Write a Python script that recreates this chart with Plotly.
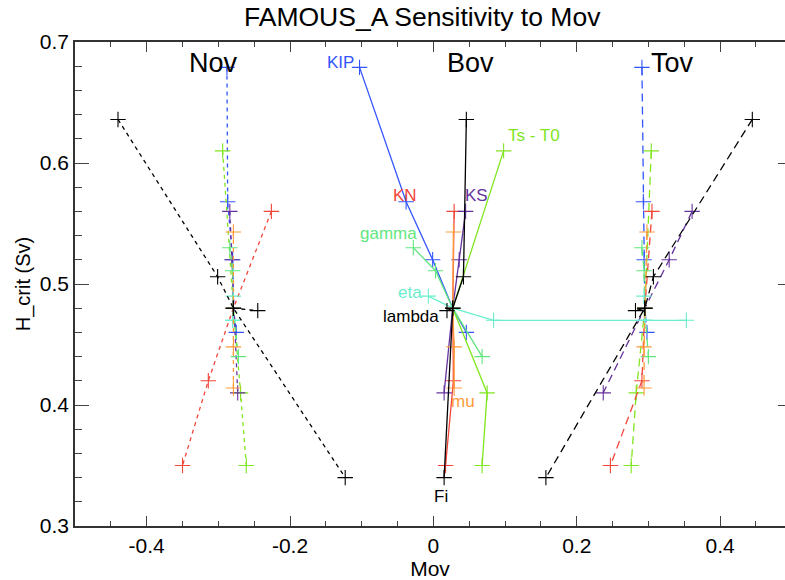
import numpy as np
import plotly.graph_objects as go

# ---- data (H_crit levels and Mov responses: Nov, Bov, Tov) ----
params = ["KIP", "Ts - T0", "KN", "KS", "gamma", "eta", "mu", "lambda", "Fi"]
colors = {"KIP": "#3355ff", "Ts - T0": "#80e61e", "KN": "#f2463a", "KS": "#66339e",
          "gamma": "#62e67e", "eta": "#6aeecc", "mu": "#ff9a3a", "lambda": "#000000", "Fi": "#000000"}

H_KIP = [0.679, 0.568, 0.520, 0.480, 0.460]
Nov_KIP = [-0.288, -0.287, -0.280, -0.279, -0.275]
Bov_KIP = [-0.103, -0.038, -0.001, 0.027, 0.046]
Tov_KIP = [0.291, 0.293, 0.294, 0.295, 0.298]

H_TS = [0.610, 0.480, 0.410, 0.350]
Nov_TS = [-0.294, -0.279, -0.269, -0.261]
Bov_TS = [0.098, 0.027, 0.075, 0.068]
Tov_TS = [0.304, 0.295, 0.283, 0.276]

H_KN = [0.560, 0.480, 0.420, 0.350]
Nov_KN = [-0.226, -0.279, -0.314, -0.350]
Bov_KN = [0.029, 0.027, 0.028, 0.017]
Tov_KN = [0.305, 0.295, 0.291, 0.247]

H_KS = [0.560, 0.520, 0.480, 0.410]
Nov_KS = [-0.284, -0.281, -0.279, -0.273]
Bov_KS = [0.045, 0.036, 0.027, 0.015]
Tov_KS = [0.361, 0.329, 0.295, 0.237]

H_GAM = [0.530, 0.511, 0.480, 0.440]
Nov_GAM = [-0.284, -0.280, -0.279, -0.272]
Bov_GAM = [-0.028, 0.003, 0.027, 0.068]
Tov_GAM = [0.291, 0.294, 0.295, 0.300]

H_ETA = [0.490, 0.480, 0.470, 0.470]
Nov_ETA = [-0.279, -0.279, -0.280, -0.280]
Bov_ETA = [-0.007, 0.027, 0.084, 0.353]
Tov_ETA = [0.294, 0.295, 0.295, 0.295]

H_MU = [0.543, 0.480, 0.448, 0.414]
Nov_MU = [-0.279, -0.279, -0.279, -0.279]
Bov_MU = [0.028, 0.027, 0.029, 0.029]
Tov_MU = [0.298, 0.295, 0.294, 0.294]

H_LAM = [0.480, 0.478]
Nov_LAM = [-0.279, -0.245]
Bov_LAM = [0.027, 0.019]
Tov_LAM = [0.295, 0.282]

H_FI = [0.636, 0.506, 0.480, 0.340]
Nov_FI = [-0.440, -0.301, -0.279, -0.123]
Bov_FI = [0.046, 0.042, 0.027, 0.015]
Tov_FI = [0.445, 0.307, 0.295, 0.157]

series = {
    "KIP": (H_KIP, Nov_KIP, Bov_KIP, Tov_KIP),
    "Ts - T0": (H_TS, Nov_TS, Bov_TS, Tov_TS),
    "KN": (H_KN, Nov_KN, Bov_KN, Tov_KN),
    "KS": (H_KS, Nov_KS, Bov_KS, Tov_KS),
    "gamma": (H_GAM, Nov_GAM, Bov_GAM, Tov_GAM),
    "eta": (H_ETA, Nov_ETA, Bov_ETA, Tov_ETA),
    "mu": (H_MU, Nov_MU, Bov_MU, Tov_MU),
    "lambda": (H_LAM, Nov_LAM, Bov_LAM, Tov_LAM),
    "Fi": (H_FI, Nov_FI, Bov_FI, Tov_FI),
}

x_ticks = [-0.4, -0.2, 0.0, 0.2, 0.4]
x_ticktext = ["-0.4", "-0.2", "0", "0.2", "0.4"]
y_ticks = [0.3, 0.4, 0.5, 0.6, 0.7]
y_ticktext = ["0.3", "0.4", "0.5", "0.6", "0.7"]

FONT = "Liberation Sans, Arial, sans-serif"

fig = go.Figure()
for name in params:
    H, nov, bov, tov = series[name]
    c = colors[name]
    for xs, dash in ((nov, "4px,4px"), (tov, "8px,5px"), (bov, "solid")):
        fig.add_trace(go.Scatter(
            x=xs, y=H, mode="lines+markers",
            line=dict(color=c, width=1.3, dash=dash),
            marker=dict(symbol="cross-thin", size=11, color=c, line=dict(color=c, width=1.1)),
            showlegend=False, hoverinfo="skip"))

# helper trace for right-side tick axis
fig.add_trace(go.Scatter(x=[None], y=[None], yaxis="y2", showlegend=False))

labels = [
    ("KIP", -0.108, 0.683, "right"),
    ("Ts - T0", 0.141, 0.623, "center"),
    ("KN", -0.040, 0.573, "center"),
    ("KS", 0.060, 0.573, "center"),
    ("gamma", -0.063, 0.542, "center"),
    ("eta", -0.033, 0.493, "center"),
    ("lambda", -0.031, 0.473, "center"),
    ("mu", 0.042, 0.4025, "center"),
    ("Fi", 0.010, 0.324, "center"),
]
for txt, x, y, anc in labels:
    fig.add_annotation(x=x, y=y, text=txt, showarrow=False, xanchor=anc, yanchor="middle",
                       font=dict(family=FONT, size=17, color=colors[txt]))

for txt, x in (("Nov", -0.307), ("Bov", 0.052), ("Tov", 0.333)):
    fig.add_annotation(x=x, y=0.683, text=txt, showarrow=False, yanchor="middle",
                       font=dict(family=FONT, size=27, color="black"))

fig.add_annotation(xref="paper", yref="paper", x=(422 - 75) / 710, y=1.0, yshift=25,
                   text="FAMOUS_A Sensitivity to Mov", showarrow=False, yanchor="middle",
                   font=dict(family=FONT, size=26.5, color="black"))

fig.update_layout(
    width=785, height=580,
    margin=dict(l=75, r=0, t=42, b=54),
    paper_bgcolor="white", plot_bgcolor="white",
    font=dict(family=FONT, size=21, color="black"),
    xaxis=dict(range=[-0.5, 0.4906], tickmode="array", tickvals=x_ticks, ticktext=x_ticktext,
               ticks="inside", ticklen=10, tickwidth=1, tickcolor="#444",
               minor=dict(tickmode="array", tickvals=list(np.round(np.arange(-0.45, 0.5, 0.05), 3)),
                          ticks="inside", ticklen=5, tickcolor="#444"),
               showline=True, linecolor="#333", linewidth=1.5, mirror="ticks",
               showgrid=False, zeroline=False,
               title=dict(text="Mov", font=dict(size=21), standoff=2),
               tickfont=dict(size=21)),
    yaxis=dict(range=[0.3, 0.7], tickmode="array", tickvals=y_ticks, ticktext=y_ticktext,
               ticks="inside", ticklen=14, tickwidth=1, tickcolor="#444",
               minor=dict(tickmode="array", tickvals=list(np.round(np.arange(0.32, 0.7, 0.02), 3)),
                          ticks="inside", ticklen=7, tickcolor="#444"),
               showline=True, linecolor="#333", linewidth=1.5, mirror=False,
               showgrid=False, zeroline=False,
               title=dict(text="H_crit (Sv)", font=dict(size=20), standoff=4),
               tickfont=dict(size=21)),
    yaxis2=dict(range=[0.3, 0.7], overlaying="y", side="right", tickmode="array",
                tickvals=[0.4, 0.5, 0.6], ticks="inside", ticklen=7, tickcolor="#444",
                showticklabels=False, showline=False, showgrid=False, zeroline=False),
)

fig.write_html("out.html")
